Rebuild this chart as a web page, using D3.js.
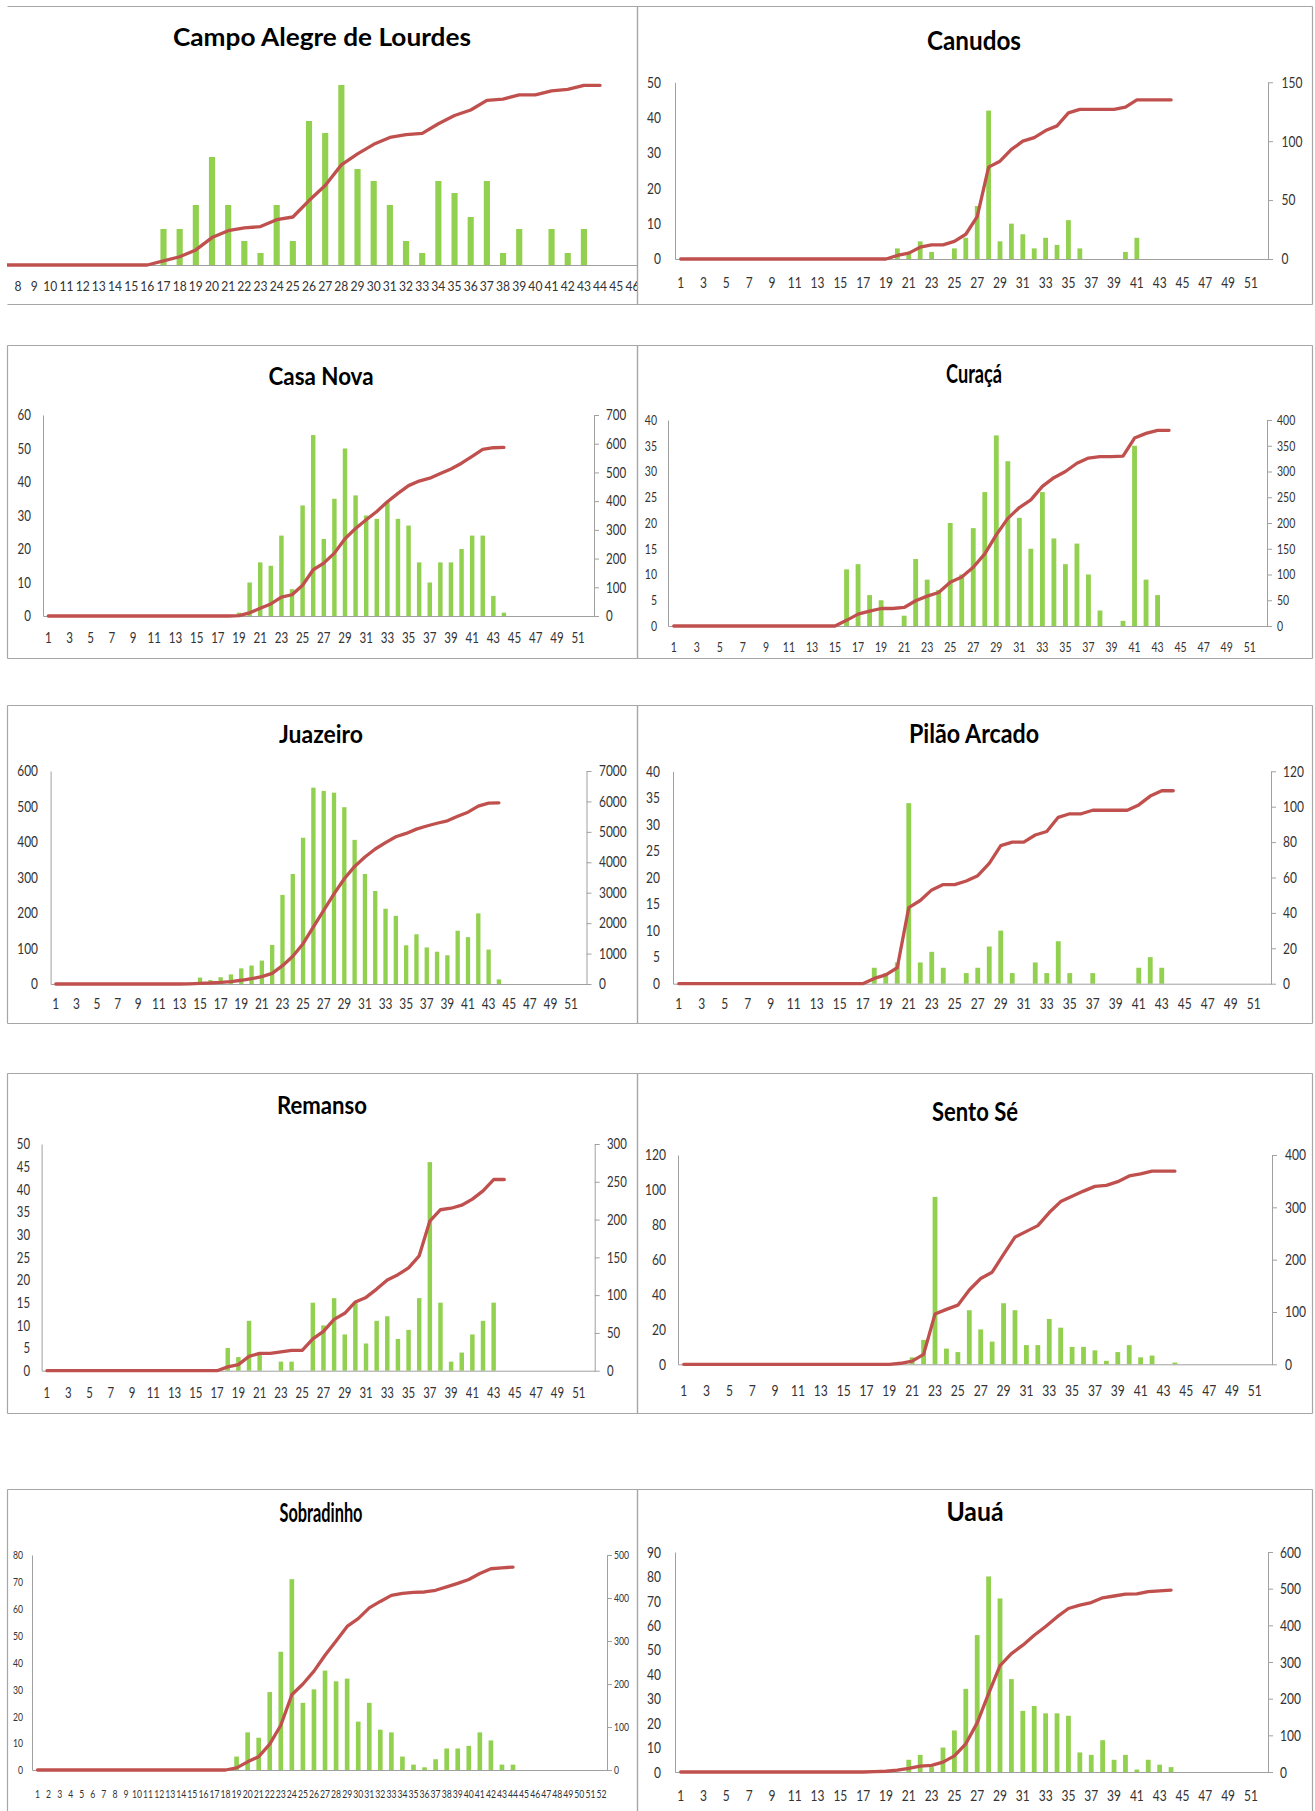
<!DOCTYPE html>
<html><head><meta charset="utf-8">
<script src="https://cdn.jsdelivr.net/npm/d3@7"></script>
<style>
body{margin:0;background:#fff}
svg{display:block}
text{font-family:Lato,"Open Sans","Liberation Sans",sans-serif}
</style>
</head><body>
<svg id="c" width="1315" height="1811"></svg>
<script>
const weeks = d3.range(1, 53);
const oddWeeks = weeks.filter(w => w % 2 === 1);
const campoVisibleWeeks = weeks.filter(w => w >= 8 && w <= 46);

// ---- data (weeks 1..44) ----
const campoCases = [0,0,0,0,0,0,0,0,0,0,0,0,0,0,0,0,3,3,5,9,5,2,1,5,2,12,11,15,8,7,5,2,1,7,6,4,7,1,3,0,3,1,3,0];
const campoCum   = [0,0,0,0,0,0,0,0,0,0,0,0,0,0,0,0,3,6,11,20,25,27,28,33,35,47,58,73,81,88,93,95,96,103,109,113,120,121,124,124,127,128,131,131];

const canudosCases = [0,0,0,0,0,0,0,0,0,0,0,0,0,0,0,0,0,0,0,3,2,5,2,0,3,6,15,42,5,10,7,3,6,4,11,3,0,0,0,2,6,0,0,0];
const canudosCum   = [0,0,0,0,0,0,0,0,0,0,0,0,0,0,0,0,0,0,0,3,5,10,12,12,15,21,36,78,83,93,100,103,109,113,124,127,127,127,127,129,135,135,135,135];

const casaCases = [0,0,0,0,0,0,0,0,0,0,0,0,0,0,0,0,0,0,1,10,16,15,24,8,33,54,23,35,50,36,30,29,34,29,27,16,10,16,16,20,24,24,6,1];
const casaCum   = [0,0,0,0,0,0,0,0,0,0,0,0,0,0,0,0,0,0,1,11,27,42,66,74,107,161,184,219,269,305,335,364,398,427,454,470,480,496,512,532,556,580,586,587];

const curacaCases = [0,0,0,0,0,0,0,0,0,0,0,0,0,0,0,11,12,6,5,0,2,13,9,7,20,10,19,26,37,32,21,15,26,17,12,16,10,3,0,1,35,9,6,0];
const curacaCum   = [0,0,0,0,0,0,0,0,0,0,0,0,0,0,0,11,23,29,34,34,36,49,58,65,85,95,114,140,177,209,230,245,271,288,300,316,326,329,329,330,365,374,380,380];

const juazCases = [0,0,0,0,0,0,0,0,0,0,0,0,0,4,18,11,19,27,44,52,66,110,251,310,412,553,544,539,498,406,310,262,212,192,109,140,103,91,81,150,132,199,97,13];
const juazCum   = [0,0,0,0,0,0,0,0,0,0,0,0,0,4,22,33,52,79,123,175,241,351,602,912,1324,1877,2421,2960,3458,3864,4174,4436,4648,4840,4949,5089,5192,5283,5364,5514,5646,5845,5942,5955];

const pilaoCases = [0,0,0,0,0,0,0,0,0,0,0,0,0,0,0,0,0,3,2,4,34,4,6,3,0,2,3,7,10,2,0,4,2,8,2,0,2,0,0,0,3,5,3,0];
const pilaoCum   = [0,0,0,0,0,0,0,0,0,0,0,0,0,0,0,0,0,3,5,9,43,47,53,56,56,58,61,68,78,80,80,84,86,94,96,96,98,98,98,98,101,106,109,109];

const remansoCases = [0,0,0,0,0,0,0,0,0,0,0,0,0,0,0,0,0,5,3,11,4,0,2,2,0,15,10,16,8,15,6,11,12,7,9,16,46,15,2,4,8,11,15,0];
const remansoCum   = [0,0,0,0,0,0,0,0,0,0,0,0,0,0,0,0,0,5,8,19,23,23,25,27,27,42,52,68,76,91,97,108,120,127,136,152,198,213,215,219,227,238,253,253];

const sentoCases = [0,0,0,0,0,0,0,0,0,0,0,0,0,0,0,0,0,0,0,0,4,14,96,9,7,31,20,13,35,31,11,11,26,21,10,10,8,2,7,11,4,5,0,1];
const sentoCum   = [0,0,0,0,0,0,0,0,0,0,0,0,0,0,0,0,0,0,0,2,6,19,96,105,113,142,164,176,210,243,254,265,290,311,321,331,340,342,349,360,364,369,369,369];

const sobraCases = [0,0,0,0,0,0,0,0,0,0,0,0,0,0,0,0,0,0,5,14,12,29,44,71,25,30,37,33,34,18,25,15,14,5,2,1,4,8,8,9,14,11,2,2];
const sobraCum   = [0,0,0,0,0,0,0,0,0,0,0,0,0,0,0,0,0,0,5,19,31,60,104,175,200,230,267,300,334,352,377,392,406,411,413,414,418,426,434,443,457,468,470,472];

const uauaCases = [0,0,0,0,0,0,0,0,0,0,0,0,0,0,0,0,0,0,0,0,5,7,2,10,17,34,56,80,71,38,25,27,24,24,23,8,7,13,5,7,1,5,3,2];
const uauaCum   = [0,0,0,0,0,0,0,0,0,0,0,0,0,0,0,0,0,1,2,5,10,16,18,27,44,77,134,214,290,323,346,373,397,423,446,455,462,475,480,485,486,492,494,496];

// ---- layout ----
const panels = [
  {name:"Campo Alegre de Lourdes", cases:campoCases, cum:campoCum, box:[7,6,637,304], sides:"trb",
   x0:-103.3, x1:737.5, yt:73, yb:265, yMax:16, y2Max:140, axes:false, xt:campoVisibleWeeks,
   fs:13, sx:0.93, lo:21, pad:0.62, tx:322, ty:46, tw:298, tfs:25},
  {name:"Canudos", cases:canudosCases, cum:canudosCum, box:[637,6,1312,304], sides:"trbl",
   x0:675, x1:1268, yt:82.3, yb:259, yMax:50, yStep:10, y2Max:150, y2Step:50, axes:true, xt:oddWeeks,
   fs:15, sx:0.8, lo:24, gl:14, gr:13.5, pad:0.58, tx:974, ty:50, tw:94, tfs:26},
  {name:"Casa Nova", cases:casaCases, cum:casaCum, box:[7,345,637,658], sides:"trbl",
   x0:43, x1:594, yt:415, yb:616, yMax:60, yStep:10, y2Max:700, y2Step:100, axes:true, xt:oddWeeks,
   fs:15, sx:0.77, lo:22, gl:12, gr:12, pad:0.58, tx:321, ty:385, tw:105, tfs:25},
  {name:"Curaçá", cases:curacaCases, cum:curacaCum, box:[637,345,1312,658], sides:"trbl",
   x0:668, x1:1267, yt:420, yb:626, yMax:40, yStep:5, y2Max:400, y2Step:50, axes:true, xt:oddWeeks,
   fs:14, sx:0.75, lo:21, gl:11, gr:10, pad:0.58, tx:974, ty:383, tw:56, tfs:26},
  {name:"Juazeiro", cases:juazCases, cum:juazCum, box:[7,705,637,1023], sides:"trbl",
   x0:50.6, x1:586.5, yt:771, yb:984, yMax:600, yStep:100, y2Max:7000, y2Step:1000, axes:true, xt:oddWeeks,
   fs:14.5, sx:0.82, lo:20, gl:12.6, gr:12.5, pad:0.58, tx:321, ty:743, tw:84, tfs:25},
  {name:"Pilão Arcado", cases:pilaoCases, cum:pilaoCum, box:[637,705,1312,1023], sides:"trbl",
   x0:673, x1:1271, yt:771.3, yb:983.7, yMax:40, yStep:5, y2Max:120, y2Step:20, axes:true, xt:oddWeeks,
   fs:15, sx:0.8, lo:20, gl:13, gr:12, pad:0.58, tx:974, ty:743, tw:130, tfs:26},
  {name:"Remanso", cases:remansoCases, cum:remansoCum, box:[7,1073,637,1413], sides:"trbl",
   x0:41.6, x1:594.7, yt:1144, yb:1370.7, yMax:50, yStep:5, y2Max:300, y2Step:50, axes:true, xt:oddWeeks,
   fs:15, sx:0.76, lo:22, gl:11.6, gr:12.3, pad:0.58, tx:322, ty:1114, tw:90, tfs:25},
  {name:"Sento Sé", cases:sentoCases, cum:sentoCum, box:[637,1073,1312,1413], sides:"trbl",
   x0:678, x1:1272, yt:1155, yb:1364.3, yMax:120, yStep:20, y2Max:400, y2Step:100, axes:true, xt:oddWeeks,
   fs:15.5, sx:0.78, lo:26, gl:12, gr:13, pad:0.58, tx:975, ty:1121, tw:86, tfs:27},
  {name:"Sobradinho", cases:sobraCases, cum:sobraCum, box:[7,1489,637,1830], sides:"trbl",
   x0:32, x1:607, yt:1555, yb:1770, yMax:80, yStep:10, y2Max:500, y2Step:100, axes:true, xt:weeks,
   fs:12, sx:0.72, lo:24, gl:9, gr:7, pad:0.58, tx:321, ty:1522, tw:83, tfs:27},
  {name:"Uauá", cases:uauaCases, cum:uauaCum, box:[637,1489,1312,1830], sides:"trbl",
   x0:675, x1:1268, yt:1552, yb:1772, yMax:90, yStep:10, y2Max:600, y2Step:100, axes:true, xt:oddWeeks,
   fs:16, sx:0.75, lo:23, gl:14, gr:12, pad:0.58, tx:975, ty:1521, tw:57, tfs:26}
];

const BAR = "#92d050", LINE = "#c0504d", AXIS = "#a0a0a0", BORDER = "#a6a6a6", TXT = "#333";
const fmt = d3.format("d");
const svg = d3.select("#c");
const defs = svg.append("defs");

panels.forEach((p, i) => {
  const [bx0, by0, bx1, by1] = p.box;
  const clipId = "clip" + i;
  defs.append("clipPath").attr("id", clipId).append("rect")
    .attr("x", bx0).attr("y", by0).attr("width", bx1 - bx0).attr("height", by1 - by0);

  const g = svg.append("g");
  const inner = g.append("g").attr("clip-path", `url(#${clipId})`);

  const x = d3.scaleBand().domain(weeks).range([p.x0, p.x1]).paddingInner(p.pad).paddingOuter(p.pad / 2);
  const y = d3.scaleLinear().domain([0, p.yMax]).range([p.yb, p.yt]);
  const y2 = d3.scaleLinear().domain([0, p.y2Max]).range([p.yb, p.yt]);

  // bars
  const barData = p.cases.map((v, k) => ({w: weeks[k], v}));
  inner.selectAll("rect.bar").data(barData).join("rect").attr("class", "bar")
    .attr("x", d => x(d.w)).attr("width", x.bandwidth())
    .attr("y", d => y(d.v)).attr("height", d => y(0) - y(d.v))
    .attr("fill", BAR);

  // x axis
  const xa = inner.append("g").attr("transform", `translate(0,${p.yb})`)
    .call(d3.axisBottom(x).tickValues(p.xt).tickSize(0).tickSizeOuter(0));
  xa.select(".domain").attr("stroke", AXIS).attr("stroke-width", 1);
  xa.selectAll("text").attr("y", p.lo).attr("dy", "0.35em")
    .attr("transform", `scale(${p.sx},1)`).style("font-size", p.fs + "px").attr("fill", TXT);

  if (p.axes) {
    const yTicks = d3.range(0, p.yMax + p.yStep / 2, p.yStep);
    const y2Ticks = d3.range(0, p.y2Max + p.y2Step / 2, p.y2Step);
    const ya = g.append("g").attr("transform", `translate(${p.x0},0)`)
      .call(d3.axisLeft(y).tickValues(yTicks).tickFormat(fmt).tickSize(0).tickSizeOuter(0).tickPadding(p.gl / p.sx));
    ya.select(".domain").attr("stroke", AXIS);
    ya.selectAll("text").attr("transform", `scale(${p.sx},1)`).style("font-size", p.fs + "px").attr("fill", TXT);

    const yb = g.append("g").attr("transform", `translate(${p.x1},0)`)
      .call(d3.axisRight(y2).tickValues(y2Ticks).tickFormat(fmt).tickSize(5).tickSizeOuter(0).tickPadding(p.gr / p.sx - 5));
    yb.select(".domain").attr("stroke", AXIS);
    yb.selectAll(".tick line").attr("stroke", AXIS);
    yb.selectAll("text").attr("transform", `scale(${p.sx},1)`).style("font-size", p.fs + "px").attr("fill", TXT);
  }

  // cumulative line
  const lineData = p.cum.map((v, k) => ({w: weeks[k], v}));
  inner.append("path").datum(lineData)
    .attr("d", d3.line().x(d => x(d.w) + x.bandwidth() / 2).y(d => y2(d.v)))
    .attr("fill", "none").attr("stroke", LINE).attr("stroke-width", 3.3)
    .attr("stroke-linejoin", "round").attr("stroke-linecap", "round");

  // title
  g.append("text").attr("x", p.tx).attr("y", p.ty).attr("text-anchor", "middle")
    .attr("textLength", p.tw).attr("lengthAdjust", "spacingAndGlyphs")
    .style("font-weight", 700).style("font-size", p.tfs + "px").attr("fill", "#000")
    .text(p.name);

  // border
  const bl = [];
  if (p.sides.includes("t")) bl.push([bx0, by0, bx1, by0]);
  if (p.sides.includes("r")) bl.push([bx1, by0, bx1, by1]);
  if (p.sides.includes("b")) bl.push([bx0, by1, bx1, by1]);
  if (p.sides.includes("l")) bl.push([bx0, by0, bx0, by1]);
  g.selectAll("line.border").data(bl).join("line").attr("class", "border")
    .attr("x1", d => d[0] + 0.5).attr("y1", d => d[1] + 0.5)
    .attr("x2", d => d[2] + 0.5).attr("y2", d => d[3] + 0.5)
    .attr("stroke", BORDER).attr("stroke-width", 1.2);
});
</script>
</body></html>
